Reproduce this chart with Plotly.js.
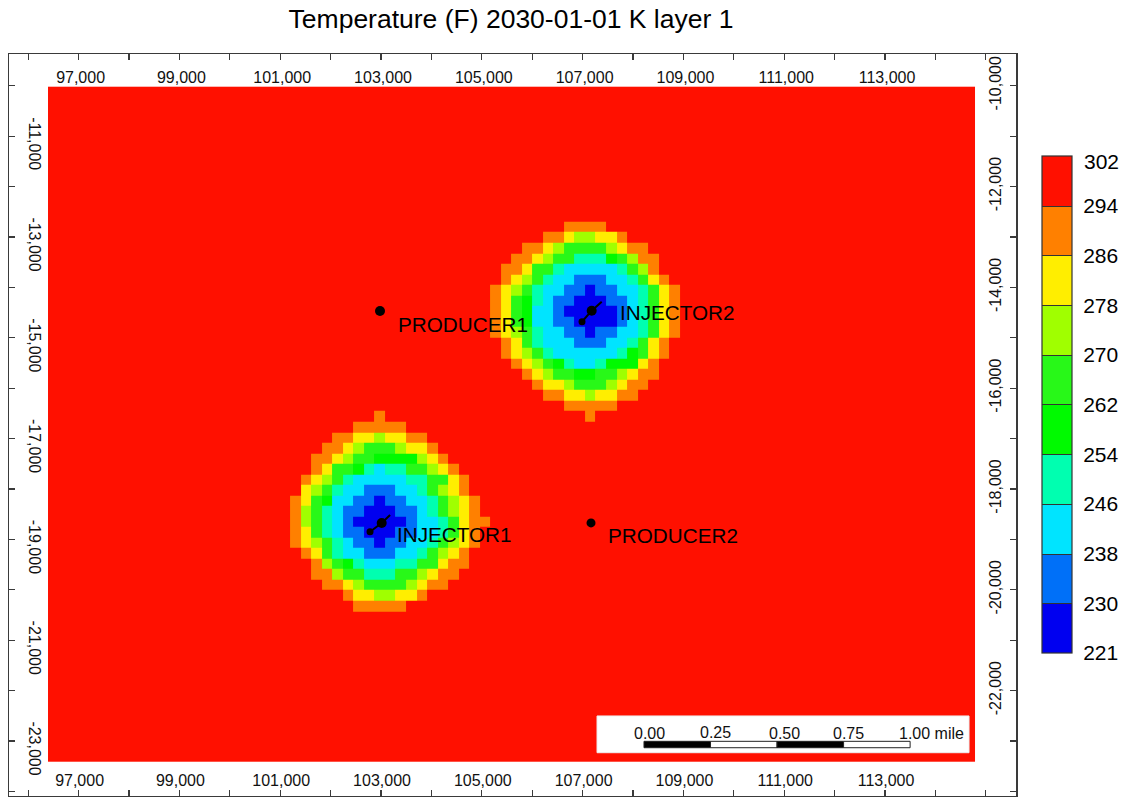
<!DOCTYPE html>
<html><head><meta charset="utf-8">
<script src="https://cdn.plot.ly/plotly-3.0.1.min.js"></script>
<style>html,body{margin:0;padding:0;background:#fff}#chart{width:1123px;height:797px}</style>
</head><body><div id="chart"></div>
<script>
// Temperature band edges and colours
const bandEdges = [221.6, 229.6, 237.6, 245.7, 253.7, 261.8, 269.8, 277.8, 285.9, 293.9, 302];
const bandLabels = ['221', '230', '238', '246', '254', '262', '270', '278', '286', '294'];
const topBandLabel = '302';
const bandColors = ['#0000f0', '#0070f8', '#00e4ff', '#00ffb0', '#00fa00', '#28f818', '#a0ff00', '#ffee00', '#ff8000', '#ff1000'];
const bandTemps = [225, 234, 242, 250, 258, 266, 274, 282, 290, 298];

// Grid size and origin, feet
const cellSize = 208.9;
const gridWest = 96393;
const gridNorth = -10020;
const gridSouth = -23418;
const firstRowEdge = -10191;
const nCols = 88;
const nRows = 65;

// Temperature bands read per cell around each injector (digit = band index)
const injector2Col = 41, injector2Row = 13;
const injector2Cells = [
"9999999988889999999",
"9999998876677899999",
"9999887655556788999",
"9998876553334568899",
"9988755322222356899",
"9987653221112235789",
"9876532211011223578",
"9875432110001123578",
"9875422100000123578",
"9875422110000123578",
"9876532211011223578",
"9987532221112235789",
"9987653222222345789",
"9998765432234447899",
"9999876554455678899",
"9999987765556788999",
"9999998877677889999",
"9999999988888999999",
"9999999999899999999"];
const injector1Col = 23, injector1Row = 31;
const injector1Cells = [
"9999999989999999999",
"9999998888899999999",
"9999887767788999999",
"9998876555677899999",
"9988765544446789999",
"9987554323355678999",
"9876532222233557899",
"9765322111223567899",
"8754221101122356789",
"8653211000112356789",
"8653210000012235788",
"8753211000112235789",
"8765321101122356789",
"9875322111223567899",
"9986543222335578899",
"9988655333556788999",
"9998876555567889999",
"9999987766778999999",
"9999998888899999999"];

// Wells, feet
const producerX = [102980, 107167];
const producerY = [-14470, -18675];
const injector2PathX = [106988, 107180, 107379];
const injector2PathY = [-14683, -14464, -14286];
const injector1PathX = [102782, 103014, 103180];
const injector1PathY = [-18849, -18677, -18518];
const wellLabels = ['PRODUCER1', 'INJECTOR2', 'INJECTOR1', 'PRODUCER2'];
const wellLabelX = [103297, 107702, 103277, 107464];
const wellLabelY = [-14730, -14490, -18895, -18934];

// Axes
const xRange = [95619, 115599];
const yRange = [-24093, -9371];
const xTicks = [96000,97000,98000,99000,100000,101000,102000,103000,104000,105000,106000,107000,108000,109000,110000,111000,112000,113000,114000,115000];
const xTickText = ['','97,000','','99,000','','101,000','','103,000','','105,000','','107,000','','109,000','','111,000','','113,000','',''];
const yTicks = [-10000,-11000,-12000,-13000,-14000,-15000,-16000,-17000,-18000,-19000,-20000,-21000,-22000,-23000,-24000];
const yLeftText = ['','-11,000','','-13,000','','-15,000','','-17,000','','-19,000','','-21,000','','-23,000',''];
const yRightText = ['-10,000','','-12,000','','-14,000','','-16,000','','-18,000','','-20,000','','-22,000','',''];

// Scale bar
const milesToFeet = 5280;
const scaleOriginX = 108218;
const scaleStops = [0, 0.25, 0.5, 0.75, 1];
const scaleLabels = ['0.00', '0.25', '0.50', '0.75', '1.00 mile'];
const scaleLabelOffsets = [100, 100, 140, 100, -270];
const scaleLabelY = [-22853, -22833, -22853, -22853, -22853];
const scaleBarTop = -23008, scaleBarBottom = -23135;
const scaleBox = [107286, 114667, -23234, -22505];

// --- build ---
const z = [];
for (let r = 0; r < nRows; r++) z.push(new Array(nCols).fill(bandTemps[9]));
function stamp(cells, col0, row0) {
  cells.forEach((s, r) => { [...s].forEach((ch, c) => { z[row0 + r][col0 + c] = bandTemps[+ch]; }); });
}
stamp(injector2Cells, injector2Col, injector2Row);
stamp(injector1Cells, injector1Col, injector1Row);

const xEdges = [];
for (let i = 0; i <= nCols; i++) xEdges.push(gridWest + i * cellSize);
const yEdges = [gridNorth];
for (let i = 0; i < nRows - 1; i++) yEdges.push(firstRowEdge - i * cellSize);
yEdges.push(gridSouth);

const span = bandEdges[bandEdges.length - 1] - bandEdges[0];
const colorscale = [];
bandColors.forEach((col, i) => {
  colorscale.push([(bandEdges[i] - bandEdges[0]) / span, col]);
  colorscale.push([(bandEdges[i + 1] - bandEdges[0]) / span, col]);
});

const font = 'Liberation Sans, Arial, sans-serif';
const FRAME = '#3a3a3a';

const plotL = 9, plotR = 1016, plotT = 54, plotB = 796;
const plotW = plotR - plotL, plotH = plotB - plotT;

const traces = [
  { type: 'heatmap', x: xEdges, y: yEdges, z: z, zmin: bandEdges[0], zmax: bandEdges[10],
    colorscale: colorscale, zsmooth: false, hoverinfo: 'skip',
    colorbar: { thickness: 30, thicknessmode: 'pixels', len: 497, lenmode: 'pixels',
      x: (1042 - plotL) / plotW, xanchor: 'left', xpad: 0,
      y: 1 - (156 - plotT) / plotH, yanchor: 'top', ypad: 0,
      tickmode: 'array', tickvals: bandEdges.slice(0, 10), ticktext: bandLabels.map(v => '\u00a0' + v),
      ticks: 'inside', ticklen: 30, tickwidth: 1, tickcolor: '#333',
      outlinecolor: '#333', outlinewidth: 1.2, bgcolor: 'rgba(0,0,0,0)', borderwidth: 0,
      tickfont: { family: font, size: 21, color: '#000' } } },
  { type: 'scatter', mode: 'lines', x: injector2PathX, y: injector2PathY, xaxis: 'x2', yaxis: 'y2',
    line: { color: '#000', width: 2 }, showlegend: false, hoverinfo: 'skip' },
  { type: 'scatter', mode: 'lines', x: injector1PathX, y: injector1PathY, xaxis: 'x2', yaxis: 'y2',
    line: { color: '#000', width: 2 }, showlegend: false, hoverinfo: 'skip' },
  { type: 'scatter', mode: 'markers', xaxis: 'x2', yaxis: 'y2',
    x: producerX.concat([injector2PathX[1], injector1PathX[1], injector2PathX[0], injector1PathX[0]]),
    y: producerY.concat([injector2PathY[1], injector1PathY[1], injector2PathY[0], injector1PathY[0]]),
    marker: { color: '#000', opacity: 1, size: [10, 9, 10, 10, 7, 7], line: { width: 0, color: '#000' } }, showlegend: false, hoverinfo: 'skip' }
];

const axisBase = { showgrid: false, zeroline: false, showline: true, linecolor: FRAME, linewidth: 1.5,
  ticks: 'inside', ticklen: 6, tickwidth: 1.2, tickcolor: FRAME, tickmode: 'array',
  ticklabelposition: 'inside', ticklabeloverflow: 'allow', tickfont: { family: font, size: 16, color: '#111' } };

const shapes = [
  { type: 'rect', xref: 'x', yref: 'y', x0: scaleBox[0], x1: scaleBox[1], y0: scaleBox[2], y1: scaleBox[3],
    fillcolor: '#fff', line: { color: '#eeeeee', width: 1 } }
];
scaleStops.slice(0, -1).forEach((s, i) => {
  shapes.push({ type: 'rect', xref: 'x', yref: 'y',
    x0: scaleOriginX + s * milesToFeet, x1: scaleOriginX + scaleStops[i + 1] * milesToFeet,
    y0: scaleBarBottom, y1: scaleBarTop,
    fillcolor: i % 2 === 0 ? '#000' : '#fff', line: { color: '#222', width: 1 } });
});

const annotations = [];
wellLabels.forEach((t, i) => annotations.push({ xref: 'x', yref: 'y', x: wellLabelX[i], y: wellLabelY[i], text: t,
  showarrow: false, xanchor: 'left', yanchor: 'middle', font: { family: font, size: 20.7, color: '#000' } }));
scaleStops.forEach((s, i) => annotations.push({ xref: 'x', yref: 'y',
  x: scaleOriginX + s * milesToFeet + scaleLabelOffsets[i], y: scaleLabelY[i], text: scaleLabels[i],
  showarrow: false, xanchor: i === 4 ? 'left' : 'center', yanchor: 'middle', font: { family: font, size: 16, color: '#111' } }));
annotations.push({ xref: 'paper', yref: 'paper', x: (1082 - plotL) / plotW, y: 1 - (161 - plotT) / plotH, text: topBandLabel,
  showarrow: false, xanchor: 'left', yanchor: 'middle', font: { family: font, size: 21, color: '#000' } });

const layout = {
  width: 1123, height: 797, paper_bgcolor: '#fff', plot_bgcolor: '#fff', showlegend: false,
  margin: { l: plotL, r: 1123 - plotR, t: plotT, b: 797 - plotB, pad: 0, autoexpand: false },
  title: { text: 'Temperature (F) 2030-01-01 K layer 1', x: 511 / 1123, xanchor: 'center', xref: 'container',
    y: 1 - 19 / 797, yanchor: 'middle', yref: 'container', font: { family: font, size: 26.5, color: '#000' } },
  xaxis: Object.assign({}, axisBase, { range: xRange, tickvals: xTicks, ticktext: xTickText, side: 'bottom', ticklabelstandoff: 1, ticklabelshift: 1 }),
  xaxis2: Object.assign({}, axisBase, { range: xRange, tickvals: xTicks, ticktext: xTickText, side: 'top', overlaying: 'x', anchor: 'y2', ticklabelstandoff: 12, ticklabelshift: 2 }),
  yaxis: Object.assign({}, axisBase, { range: yRange, tickvals: yTicks, ticktext: yLeftText, side: 'left', tickangle: 90, ticklabelstandoff: 11, ticklabelshift: 10 }),
  yaxis2: Object.assign({}, axisBase, { range: yRange, tickvals: yTicks, ticktext: yRightText, side: 'right', overlaying: 'y', anchor: 'x2', tickangle: -90, ticklabelstandoff: 6 }),
  shapes: shapes, annotations: annotations
};

Plotly.newPlot('chart', traces, layout, { displayModeBar: false, staticPlot: true });
</script></body></html>
